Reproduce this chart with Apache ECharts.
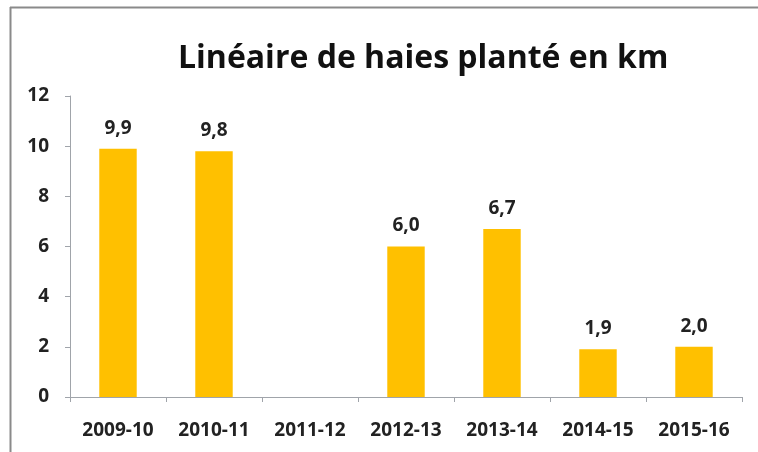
<!DOCTYPE html>
<html>
<head>
<meta charset="utf-8">
<script src="https://cdn.jsdelivr.net/npm/echarts@6/dist/echarts.min.js"></script>
<style>
    html,body{margin:0;padding:0;background:#fff;}
    #chart{width:758px;height:452px;}
</style>
</head>
<body>
<div id="chart"></div>
<script>
// données
var saisons=['2009-10','2010-11','2011-12','2012-13','2013-14','2014-15','2015-16'];
var lineaire=[9.9,9.8,null,6.0,6.7,1.9,2.0];
var titre='Linéaire de haies planté en km';

var chart=echarts.init(document.getElementById('chart'));
var option={
    animation:false,
    backgroundColor:'#fff',
    textStyle:{fontFamily:'Open Sans'},
    title:{
        text:titre,
        left:173,
        top:38,
        textStyle:{color:'#111',fontSize:32,fontWeight:'bold',fontFamily:'Open Sans'}
    },
    // bordure du cadre (haut et gauche seulement, l'image est coupée)
    graphic:[
        {type:'line',shape:{x1:10,y1:7.5,x2:758,y2:7.5},style:{stroke:'#8a8a8a',lineWidth:2}},
        {type:'line',shape:{x1:10.5,y1:7,x2:10.5,y2:452},style:{stroke:'#8a8a8a',lineWidth:2}}
    ],
    grid:{left:70,right:16,top:96,bottom:55},
    xAxis:{
        type:'category',
        data:saisons,
        axisLine:{lineStyle:{color:'#a0a4aa'}},
        axisTick:{show:true,length:5,lineStyle:{color:'#a0a4aa'}},
        axisLabel:{color:'#222',fontSize:19,fontWeight:'bold',margin:24}
    },
    yAxis:{
        type:'value',
        min:0,
        max:12,
        interval:2,
        splitLine:{show:false},
        axisLine:{show:true,lineStyle:{color:'#a0a4aa'}},
        axisTick:{show:true,length:5,lineStyle:{color:'#a0a4aa'}},
        axisLabel:{color:'#222',fontSize:19,fontWeight:'bold',margin:21}
    },
    series:[{
        type:'bar',
        data:lineaire,
        barWidth:'39%',
        itemStyle:{color:'#FFC000'},
        label:{
            show:true,
            position:'top',
            distance:11,
            color:'#222',
            fontSize:19,
            fontWeight:'bold',
            formatter:function (p) {
                return p.value==null?'':p.value.toFixed(1).replace('.',',');
            }
        }
    }]
};
chart.setOption(option);
</script>
</body>
</html>
